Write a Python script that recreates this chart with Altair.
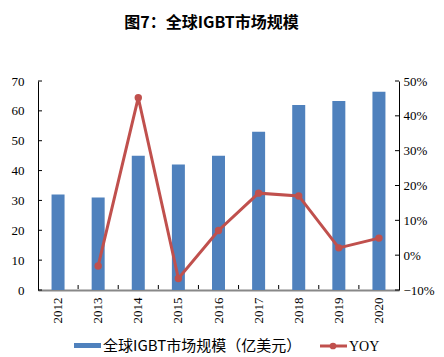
import altair as alt
import pandas as pd

years = ["2012", "2013", "2014", "2015", "2016", "2017", "2018", "2019", "2020"]
market = [32, 31, 45, 42, 45, 53, 62, 63.3, 66.4]
yoy = [None, -0.031, 0.452, -0.067, 0.071, 0.178, 0.17, 0.021, 0.049]
left_ticks = [0, 10, 20, 30, 40, 50, 60, 70]
right_ticks = [-0.1, 0, 0.1, 0.2, 0.3, 0.4, 0.5]
title_text = "图7：全球IGBT市场规模"
legend_labels = ["全球IGBT市场规模（亿美元）", "YOY"]

BLUE = "#4F81BD"
RED = "#C0504D"
SERIF = "Liberation Serif"
CJK = "Noto Sans CJK SC"

df = pd.DataFrame({"year": years, "market": market, "yoy": yoy})

xscale = alt.Scale(paddingInner=0, paddingOuter=0)
x = alt.X("year:N", sort=years, title=None, scale=xscale,
          axis=alt.Axis(labelAngle=270, labelFont=SERIF, labelFontSize=13,
                        labelColor="black", labelPadding=7, ticks=False,
                        domainColor="#888888", domainWidth=2,
                        labelAlign="right", labelBaseline="middle"))

lscale = alt.Scale(domain=[0, 70], nice=False, zero=False)
rscale = alt.Scale(domain=[-0.1, 0.5], nice=False, zero=False)

bars = alt.Chart(df).mark_bar(color=BLUE, size=13).encode(
    x=x,
    y=alt.Y("market:Q", title=None, scale=lscale,
            axis=alt.Axis(values=left_ticks, orient="left",
                          labelFont=SERIF, labelFontSize=13, labelColor="black",
                          labelPadding=14, grid=False, ticks=False,
                          domainColor="black")),
)

line_df = df.dropna()
line = alt.Chart(line_df).mark_line(color=RED, strokeWidth=3,
                                    point=alt.OverlayMarkDef(color=RED, size=55, filled=True, opacity=1)).encode(
    x=alt.X("year:N", sort=years, scale=xscale),
    y=alt.Y("yoy:Q", title=None, scale=rscale,
            axis=alt.Axis(orient="right", format=".0%", values=right_ticks,
                          labelFont=SERIF, labelFontSize=13, labelColor="black",
                          labelPadding=4, grid=False, ticks=False,
                          domainColor="black")),
)

# inward tick marks
lt = alt.Chart(pd.DataFrame({"v": left_ticks})).mark_rule(color="black", strokeWidth=1).encode(
    y=alt.Y("v:Q", scale=lscale, axis=None), x=alt.value(0), x2=alt.value(4))
rt = alt.Chart(pd.DataFrame({"v": right_ticks})).mark_rule(color="black", strokeWidth=1).encode(
    y=alt.Y("v:Q", scale=rscale, axis=None), x=alt.value(357), x2=alt.value(361))
xt = alt.Chart(pd.DataFrame({"year": years[1:]})).mark_rule(color="black", strokeWidth=1).encode(
    x=alt.X("year:N", sort=years, scale=xscale, bandPosition=0),
    y=alt.value(204), y2=alt.value(208))

leg_df = pd.DataFrame({"a": [legend_labels[0]], "b": [legend_labels[1]]})
leg = alt.Chart(leg_df)
leg_rect = leg.mark_rect(color=BLUE).encode(
    x=alt.value(36), x2=alt.value(63), y=alt.value(262), y2=alt.value(267))
leg_text1 = leg.mark_text(align="left", baseline="middle", font=CJK, fontSize=15,
                          color="black").encode(
    x=alt.value(65), y=alt.value(265), text="a:N")
leg_line = leg.mark_rule(color=RED, strokeWidth=3).encode(
    x=alt.value(282), x2=alt.value(309), y=alt.value(265))
leg_dot = leg.mark_point(color=RED, filled=True, size=45, opacity=1).encode(
    x=alt.value(295), y=alt.value(265))
leg_text2 = leg.mark_text(align="left", baseline="middle", font=SERIF, fontSize=14,
                          color="black").encode(
    x=alt.value(311), y=alt.value(266), text="b:N")

chart = alt.layer(bars, line, lt, rt, xt, leg_rect, leg_text1, leg_line, leg_dot, leg_text2).resolve_scale(
    y="independent"
).properties(
    width=361, height=209,
    autosize=alt.AutoSizeParams(type="none"),
    padding={"left": 30, "top": 73, "right": 37, "bottom": 65},
    title=alt.TitleParams(title_text, font=CJK, fontSize=16, fontWeight="bold",
                          anchor="middle", offset=44, dx=-7, color="black"),
).configure_view(stroke=None)

chart.save("out.html", embed_options={"renderer": "svg", "actions": False})
